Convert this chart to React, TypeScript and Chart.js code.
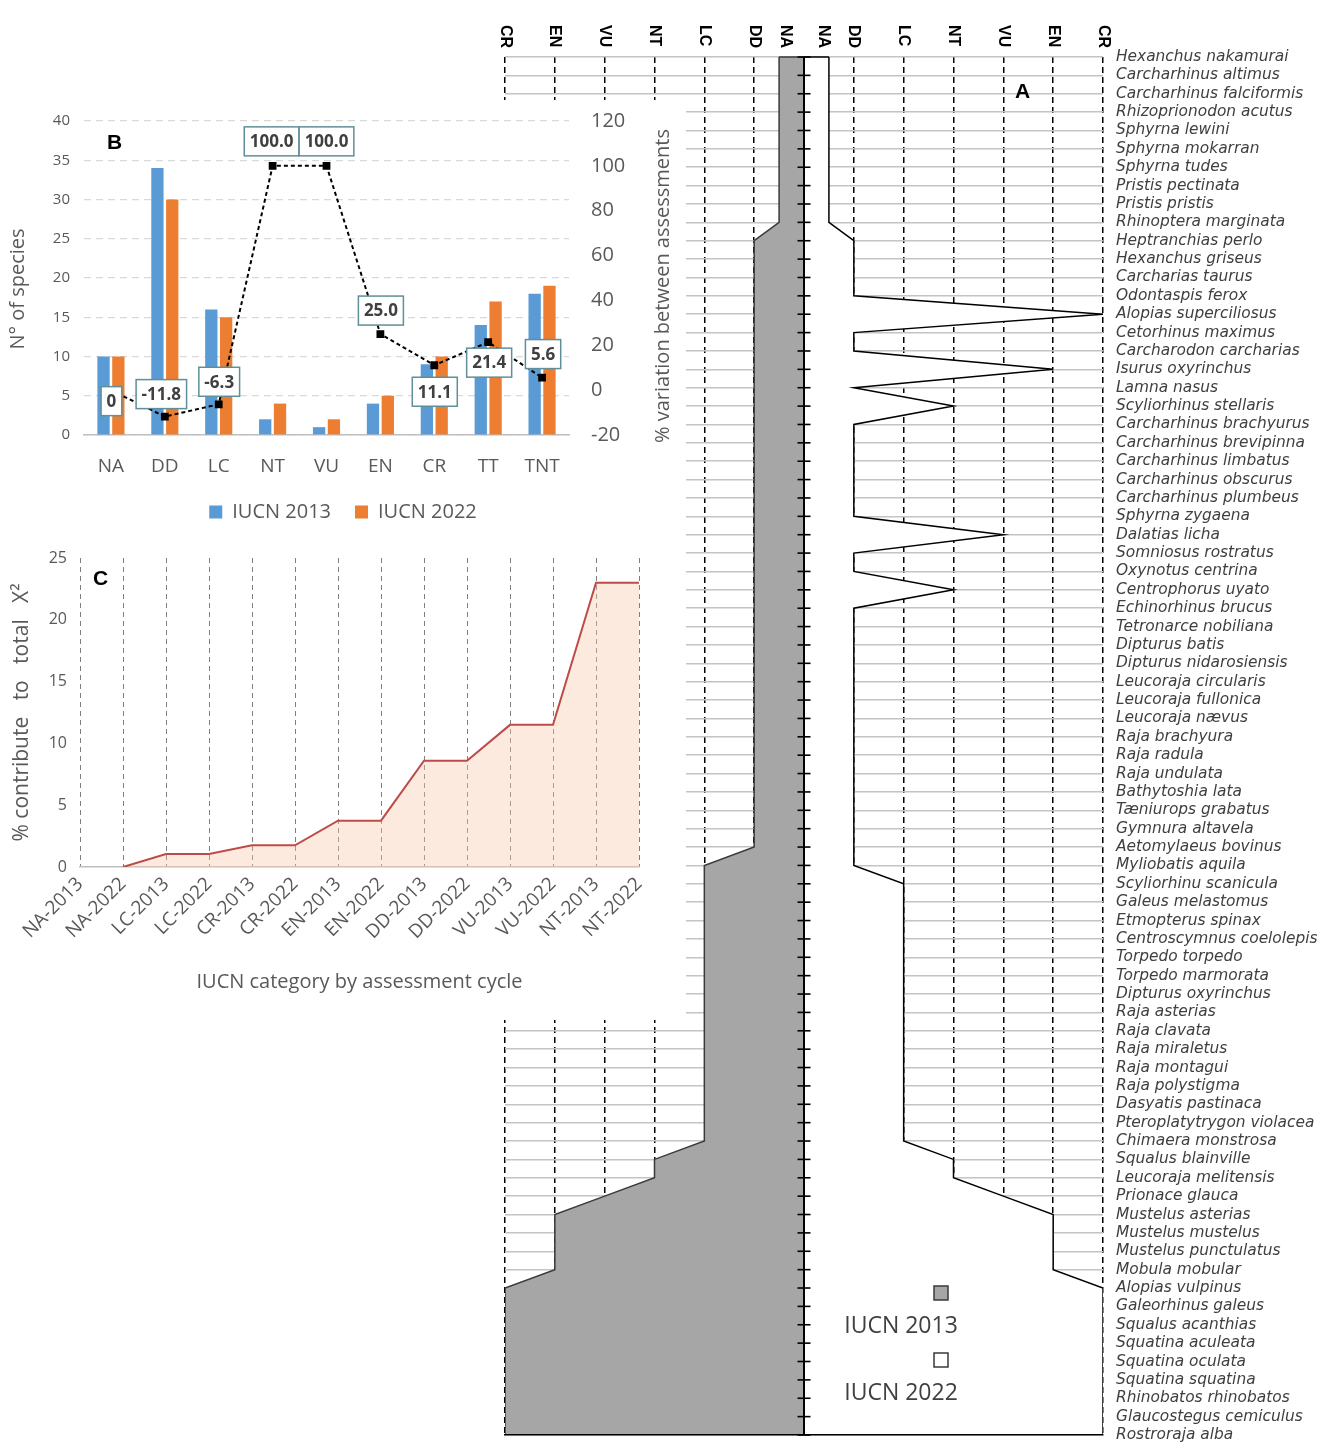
import React, { useEffect, useRef } from 'react';
import { Chart, registerables } from 'chart.js';

Chart.register(...registerables);

// ---------------- Panel A: species and IUCN category per assessment ----------------
const species = [
  'Hexanchus nakamurai', 'Carcharhinus altimus', 'Carcharhinus falciformis', 'Rhizoprionodon acutus',
  'Sphyrna lewini', 'Sphyrna mokarran', 'Sphyrna tudes', 'Pristis pectinata', 'Pristis pristis',
  'Rhinoptera marginata', 'Heptranchias perlo', 'Hexanchus griseus', 'Carcharias taurus', 'Odontaspis ferox',
  'Alopias superciliosus', 'Cetorhinus maximus', 'Carcharodon carcharias', 'Isurus oxyrinchus', 'Lamna nasus',
  'Scyliorhinus stellaris', 'Carcharhinus brachyurus', 'Carcharhinus brevipinna', 'Carcharhinus limbatus',
  'Carcharhinus obscurus', 'Carcharhinus plumbeus', 'Sphyrna zygaena', 'Dalatias licha', 'Somniosus rostratus',
  'Oxynotus centrina', 'Centrophorus uyato', 'Echinorhinus brucus', 'Tetronarce nobiliana', 'Dipturus batis',
  'Dipturus nidarosiensis', 'Leucoraja circularis', 'Leucoraja fullonica', 'Leucoraja nævus', 'Raja brachyura',
  'Raja radula', 'Raja undulata', 'Bathytoshia lata', 'Tæniurops grabatus', 'Gymnura altavela',
  'Aetomylaeus bovinus', 'Myliobatis aquila', 'Scyliorhinu scanicula', 'Galeus melastomus', 'Etmopterus spinax',
  'Centroscymnus coelolepis', 'Torpedo torpedo', 'Torpedo marmorata', 'Dipturus oxyrinchus', 'Raja asterias',
  'Raja clavata', 'Raja miraletus', 'Raja montagui', 'Raja polystigma', 'Dasyatis pastinaca',
  'Pteroplatytrygon violacea', 'Chimaera monstrosa', 'Squalus blainville', 'Leucoraja melitensis',
  'Prionace glauca', 'Mustelus asterias', 'Mustelus mustelus', 'Mustelus punctulatus', 'Mobula mobular',
  'Alopias vulpinus', 'Galeorhinus galeus', 'Squalus acanthias', 'Squatina aculeata', 'Squatina oculata',
  'Squatina squatina', 'Rhinobatos rhinobatos', 'Glaucostegus cemiculus', 'Rostroraja alba',
];

const status2013 = [
  'NA', 'NA', 'NA', 'NA', 'NA', 'NA', 'NA', 'NA', 'NA', 'NA',
  'DD', 'DD', 'DD', 'DD', 'DD', 'DD', 'DD', 'DD', 'DD', 'DD',
  'DD', 'DD', 'DD', 'DD', 'DD', 'DD', 'DD', 'DD', 'DD', 'DD',
  'DD', 'DD', 'DD', 'DD', 'DD', 'DD', 'DD', 'DD', 'DD', 'DD',
  'DD', 'DD', 'DD', 'DD', 'LC', 'LC', 'LC', 'LC', 'LC', 'LC',
  'LC', 'LC', 'LC', 'LC', 'LC', 'LC', 'LC', 'LC', 'LC', 'LC',
  'NT', 'NT', 'VU', 'EN', 'EN', 'EN', 'EN', 'CR', 'CR', 'CR',
  'CR', 'CR', 'CR', 'CR', 'CR', 'CR',
];

const status2022 = [
  'NA', 'NA', 'NA', 'NA', 'NA', 'NA', 'NA', 'NA', 'NA', 'NA',
  'DD', 'DD', 'DD', 'DD', 'CR', 'DD', 'DD', 'EN', 'DD', 'NT',
  'DD', 'DD', 'DD', 'DD', 'DD', 'DD', 'VU', 'DD', 'DD', 'NT',
  'DD', 'DD', 'DD', 'DD', 'DD', 'DD', 'DD', 'DD', 'DD', 'DD',
  'DD', 'DD', 'DD', 'DD', 'DD', 'LC', 'LC', 'LC', 'LC', 'LC',
  'LC', 'LC', 'LC', 'LC', 'LC', 'LC', 'LC', 'LC', 'LC', 'LC',
  'NT', 'NT', 'VU', 'EN', 'EN', 'EN', 'EN', 'CR', 'CR', 'CR',
  'CR', 'CR', 'CR', 'CR', 'CR', 'CR',
];

// distance of each IUCN category from the centre axis
const categoryLevel: Record<string, number> = { NA: 0.5, DD: 1, LC: 2, NT: 3, VU: 4, EN: 5, CR: 6 };
const topAxisLabels = ['NA', 'DD', 'LC', 'NT', 'VU', 'EN', 'CR'];
const aLegendLabels = ['IUCN 2013', 'IUCN 2022'];

// ---------------- Panel B ----------------
const bCategories = ['NA', 'DD', 'LC', 'NT', 'VU', 'EN', 'CR', 'TT', 'TNT'];
const bSpecies2013 = [10, 34, 16, 2, 1, 4, 9, 14, 18];
const bSpecies2022 = [10, 30, 15, 4, 2, 5, 10, 17, 19];
const bVariation = [0, -11.8, -6.3, 100.0, 100.0, 25.0, 11.1, 21.4, 5.6];

// ---------------- Panel C ----------------
const cCategories = [
  'NA-2013', 'NA-2022', 'LC-2013', 'LC-2022', 'CR-2013', 'CR-2022', 'EN-2013',
  'EN-2022', 'DD-2013', 'DD-2022', 'VU-2013', 'VU-2022', 'NT-2013', 'NT-2022',
];
const cContribution = [null, 0, 1.05, 1.05, 1.75, 1.75, 3.75, 3.75, 8.6, 8.6, 11.5, 11.5, 23.0, 23.0];

const SANS = "'Open Sans', sans-serif";
const GREY_TEXT = '#595959';

// fix the width of a vertical axis and stop its tick padding from pushing the chart area
const fixVertical = (w: number) => (s: any) => {
  s.width = w;
  s.paddingTop = 0;
  s.paddingBottom = 0;
};

// ---------------------------------------------------------------------------------
function makeA(canvas: HTMLCanvasElement) {
  const aDecor = {
    id: 'aDecor',
    afterDatasetsDraw(chart: any) {
      const { ctx, scales } = chart;
      const xs = scales.x;
      const ys = scales.y;
      const x0 = xs.getPixelForValue(0);
      const yTop = ys.getPixelForValue(0);
      const yBot = ys.getPixelForValue(species.length - 1);
      ctx.save();
      // top edges of the two areas
      chart.data.datasets.forEach((ds: any) => {
        const first = ds.data[0];
        ctx.strokeStyle = ds.borderColor;
        ctx.lineWidth = 1.5;
        ctx.beginPath();
        ctx.moveTo(x0, yTop);
        ctx.lineTo(xs.getPixelForValue(first.x), yTop);
        ctx.stroke();
      });
      // centre axis with crossing ticks
      ctx.strokeStyle = '#000';
      ctx.lineWidth = 2;
      ctx.beginPath();
      ctx.moveTo(x0, yTop);
      ctx.lineTo(x0, yBot);
      ctx.stroke();
      ctx.lineWidth = 1.6;
      species.forEach((_, i) => {
        const y = ys.getPixelForValue(i);
        ctx.beginPath();
        ctx.moveTo(x0 - 6.5, y);
        ctx.lineTo(x0 + 6.5, y);
        ctx.stroke();
      });
      ctx.restore();
    },
    afterDraw(chart: any) {
      const { ctx, scales, chartArea } = chart;
      const xs = scales.x;
      ctx.save();
      // rotated category labels on top
      ctx.font = "bold 16px 'Liberation Sans', Arial, sans-serif";
      ctx.fillStyle = '#000';
      ctx.textAlign = 'left';
      ctx.textBaseline = 'middle';
      topAxisLabels.forEach((lab) => {
        [-1, 1].forEach((side) => {
          let x = xs.getPixelForValue(side * categoryLevel[lab]);
          if (lab === 'NA') x -= side * 6;
          ctx.save();
          ctx.translate(x, chartArea.top - 32);
          ctx.rotate(Math.PI / 2);
          ctx.fillText(lab, 0, 0);
          ctx.restore();
        });
      });
      // panel letter
      ctx.font = "bold 21px 'Liberation Sans', Arial, sans-serif";
      ctx.textBaseline = 'alphabetic';
      ctx.fillText('A', 1015, 98);
      // legend
      const ds = chart.data.datasets;
      const entries = [ds[1], ds[0]];
      entries.forEach((d: any, i: number) => {
        const top = 1286 + i * 67;
        ctx.fillStyle = d.backgroundColor;
        ctx.fillRect(934, top, 14, 14);
        ctx.strokeStyle = '#3a3a3a';
        ctx.lineWidth = 1.5;
        ctx.strokeRect(934, top, 14, 14);
        ctx.fillStyle = '#404040';
        ctx.font = `23px ${SANS}`;
        ctx.textAlign = 'center';
        ctx.fillText(aLegendLabels[i], 901, top + 47);
      });
      ctx.restore();
    },
  };

  return new Chart(canvas, {
    type: 'line',
    data: {
      datasets: [
        {
          label: 'IUCN 2022',
          data: status2022.map((c, i) => ({ x: categoryLevel[c], y: i })),
          borderColor: '#000000',
          backgroundColor: '#ffffff',
          borderWidth: 1.5,
          fill: 'origin',
          pointRadius: 0,
          tension: 0,
        },
        {
          label: 'IUCN 2013',
          data: status2013.map((c, i) => ({ x: -categoryLevel[c], y: i })),
          borderColor: '#3a3a3a',
          backgroundColor: '#a6a6a6',
          borderWidth: 1.5,
          fill: 'origin',
          pointRadius: 0,
          tension: 0,
        },
      ],
    } as any,
    options: {
      indexAxis: 'y',
      animation: false,
      responsive: false,
      events: [],
      layout: { padding: { left: 505, top: 57, bottom: 19, right: 0 } },
      plugins: { legend: { display: false }, tooltip: { enabled: false } },
      scales: {
        x: {
          type: 'linear',
          min: -6,
          max: 6,
          position: 'bottom',
          afterBuildTicks: (s: any) => {
            s.ticks = [-6, -5, -4, -3, -2, -1, 0, 1, 2, 3, 4, 5, 6].map((v) => ({ value: v }));
          },
          afterFit: (s: any) => { s.height = 0; },
          ticks: { display: false },
          grid: {
            color: (c: any) => (c.tick && c.tick.value === 0 ? 'rgba(0,0,0,0)' : '#000000'),
            lineWidth: 1.5,
            drawTicks: false,
          },
          border: { display: true, color: '#000', width: 1.5, dash: [6, 4], z: 1 },
        },
        y: {
          type: 'linear',
          min: 0,
          max: species.length - 1,
          reverse: true,
          position: 'right',
          afterBuildTicks: (s: any) => {
            s.ticks = species.map((_, i) => ({ value: i }));
          },
          afterFit: fixVertical(222),
          ticks: {
            autoSkip: false,
            callback: (v: any) => species[v],
            font: { family: "'DejaVu Sans', sans-serif", size: 15.4, style: 'italic' },
            color: '#3f3f3f',
            padding: 13,
          },
          grid: { color: '#c4c4c4', lineWidth: 1.5, drawTicks: false },
          border: { display: false },
        },
      },
    } as any,
    plugins: [aDecor],
  });
}

// ---------------------------------------------------------------------------------
const variationLabelDx = [0.5, -3.5, 0.5, -1, 0, 0.5, 0.5, 1, 1];
const variationLabelDy = [11, -22.5, -22.5, -24.5, -24.5, -23.5, 26.5, 20.5, -23.5];

function makeB(canvas: HTMLCanvasElement) {
  const bDecor = {
    id: 'bDecor',
    afterDatasetsDraw(chart: any) {
      const { ctx } = chart;
      const meta = chart.getDatasetMeta(0);
      ctx.save();
      ctx.font = `bold 17px ${SANS}`;
      ctx.textAlign = 'center';
      ctx.textBaseline = 'middle';
      meta.data.forEach((pt: any, i: number) => {
        const v = bVariation[i];
        const text = v === 0 ? '0' : v.toFixed(1);
        const w = ctx.measureText(text).width + 11;
        const h = 29;
        const cx = pt.x + variationLabelDx[i];
        const cy = pt.y + variationLabelDy[i];
        ctx.fillStyle = '#ffffff';
        ctx.fillRect(cx - w / 2, cy - h / 2, w, h);
        ctx.strokeStyle = '#5f8f97';
        ctx.lineWidth = 1.5;
        ctx.strokeRect(cx - w / 2, cy - h / 2, w, h);
        ctx.fillStyle = '#404040';
        ctx.fillText(text, cx, cy + 1);
      });
      ctx.restore();
    },
    afterDraw(chart: any) {
      const { ctx, chartArea } = chart;
      const cy = (chartArea.top + chartArea.bottom) / 2;
      ctx.save();
      ctx.fillStyle = GREY_TEXT;
      ctx.textAlign = 'center';
      ctx.textBaseline = 'middle';
      ctx.font = `20px ${SANS}`;
      ctx.translate(18, cy + 11);
      ctx.rotate(-Math.PI / 2);
      ctx.fillText('N° of species', 0, 0);
      ctx.restore();
      ctx.save();
      ctx.fillStyle = GREY_TEXT;
      ctx.textAlign = 'center';
      ctx.textBaseline = 'middle';
      ctx.font = `20px ${SANS}`;
      ctx.translate(663, cy + 8);
      ctx.rotate(-Math.PI / 2);
      ctx.fillText('% variation between assessments', 0, 0);
      ctx.restore();
      ctx.save();
      ctx.fillStyle = '#000';
      ctx.font = "bold 21px 'Liberation Sans', Arial, sans-serif";
      ctx.fillText('B', 107, 43);
      ctx.restore();
    },
  };

  return new Chart(canvas, {
    type: 'bar',
    data: {
      labels: bCategories,
      datasets: [
        {
          type: 'line',
          label: '% variation',
          data: bVariation,
          yAxisID: 'y1',
          borderColor: '#000000',
          borderWidth: 2,
          borderDash: [4, 3],
          pointStyle: 'rect',
          pointRadius: 5.5,
          pointBackgroundColor: '#000000',
          pointBorderColor: '#000000',
          pointBorderWidth: 0,
          fill: false,
          tension: 0,
        },
        {
          label: 'IUCN 2013',
          data: bSpecies2013,
          backgroundColor: '#5b9bd5',
          yAxisID: 'y',
          categoryPercentage: 0.55,
          barPercentage: 0.83,
        },
        {
          label: 'IUCN 2022',
          data: bSpecies2022,
          backgroundColor: '#ed7d31',
          yAxisID: 'y',
          categoryPercentage: 0.55,
          barPercentage: 0.83,
        },
      ],
    } as any,
    options: {
      animation: false,
      responsive: false,
      events: [],
      layout: { padding: { top: 21, bottom: 8, left: 0, right: 0 } },
      plugins: {
        tooltip: { enabled: false },
        legend: {
          position: 'bottom',
          labels: {
            filter: (item: any) => item.datasetIndex !== 0,
            boxWidth: 13,
            boxHeight: 13,
            padding: 24,
            font: { family: SANS, size: 20 },
            color: GREY_TEXT,
          },
        },
      },
      scales: {
        x: {
          grid: { display: false },
          border: { display: true, color: '#bfbfbf', width: 1.5 },
          ticks: { font: { family: SANS, size: 19 }, color: GREY_TEXT, padding: 12, maxRotation: 0 },
          afterFit: (s: any) => { s.height = 43; },
        },
        y: {
          position: 'left',
          min: 0,
          max: 40,
          ticks: { stepSize: 5, font: { family: SANS, size: 15 }, color: GREY_TEXT, padding: 14 },
          grid: { color: '#d9d9d9', lineWidth: 1.2, drawTicks: false },
          border: { display: false, dash: [7, 5] },
          afterFit: fixVertical(84),
        },
        y1: {
          position: 'right',
          min: -20,
          max: 120,
          ticks: { stepSize: 20, font: { family: SANS, size: 20 }, color: GREY_TEXT, padding: 22 },
          grid: { display: false, drawTicks: false },
          border: { display: false },
          afterFit: fixVertical(117),
        },
      },
    } as any,
    plugins: [bDecor],
  });
}

// ---------------------------------------------------------------------------------
function makeC(canvas: HTMLCanvasElement) {
  const cDecor = {
    id: 'cDecor',
    afterDraw(chart: any) {
      const { ctx } = chart;
      ctx.save();
      ctx.fillStyle = '#000';
      ctx.font = "bold 21px 'Liberation Sans', Arial, sans-serif";
      ctx.fillText('C', 93, 45);
      ctx.restore();
    },
  };
  return new Chart(canvas, {
    type: 'line',
    data: {
      labels: cCategories,
      datasets: [
        {
          label: '% contribute',
          data: cContribution,
          borderColor: '#be4b48',
          backgroundColor: 'rgba(247, 200, 168, 0.38)',
          borderWidth: 2,
          fill: 'origin',
          pointRadius: 0,
          tension: 0,
          spanGaps: false,
        },
      ],
    } as any,
    options: {
      animation: false,
      responsive: false,
      events: [],
      layout: { padding: { top: 18, right: 47, left: 0, bottom: 0 } },
      plugins: { legend: { display: false }, tooltip: { enabled: false } },
      scales: {
        x: {
          grid: { color: '#7f7f7f', lineWidth: 1, drawTicks: false },
          border: { display: true, color: '#bfbfbf', width: 1.5, dash: [5, 4] },
          ticks: {
            autoSkip: false,
            minRotation: 45,
            maxRotation: 45,
            font: { family: SANS, size: 19 },
            color: GREY_TEXT,
            padding: 6,
          },
          title: {
            display: true,
            text: 'IUCN category by assessment cycle',
            font: { family: SANS, size: 20 },
            color: GREY_TEXT,
            padding: { top: 0, bottom: 26 },
          },
          afterFit: (s: any) => { s.height = 153; },
        },
        y: {
          min: 0,
          max: 25,
          ticks: { stepSize: 5, font: { family: SANS, size: 16 }, color: GREY_TEXT, padding: 13 },
          grid: { display: false, drawTicks: false },
          border: { display: false },
          title: {
            display: true,
            text: '% contribute   to   total   X²',
            font: { family: SANS, size: 21 },
            color: GREY_TEXT,
            padding: { top: 9, bottom: 0 },
          },
          afterFit: fixVertical(80),
        },
      },
    } as any,
    plugins: [cDecor],
  });
}

export default function App() {
  const aRef = useRef<HTMLCanvasElement>(null);
  const bRef = useRef<HTMLCanvasElement>(null);
  const cRef = useRef<HTMLCanvasElement>(null);

  useEffect(() => {
    const charts: Chart[] = [];
    if (aRef.current) charts.push(makeA(aRef.current));
    if (bRef.current) charts.push(makeB(bRef.current));
    if (cRef.current) charts.push(makeC(cRef.current));
    return () => charts.forEach((c) => c.destroy());
  }, []);

  return (
    <div style={{ position: 'absolute', left: 0, top: 0, width: 1325, height: 1454, background: '#fff', overflow: 'hidden' }}>
      <canvas ref={aRef} width={1325} height={1454} style={{ position: 'absolute', left: 0, top: 0, width: 1325, height: 1454 }} />
      <div style={{ position: 'absolute', left: 0, top: 100, width: 686, height: 440, background: '#fff' }}>
        <canvas ref={bRef} width={686} height={440} style={{ display: 'block', width: 686, height: 440 }} />
      </div>
      <div style={{ position: 'absolute', left: 0, top: 540, width: 686, height: 480, background: '#fff' }}>
        <canvas ref={cRef} width={686} height={480} style={{ display: 'block', width: 686, height: 480 }} />
      </div>
    </div>
  );
}
